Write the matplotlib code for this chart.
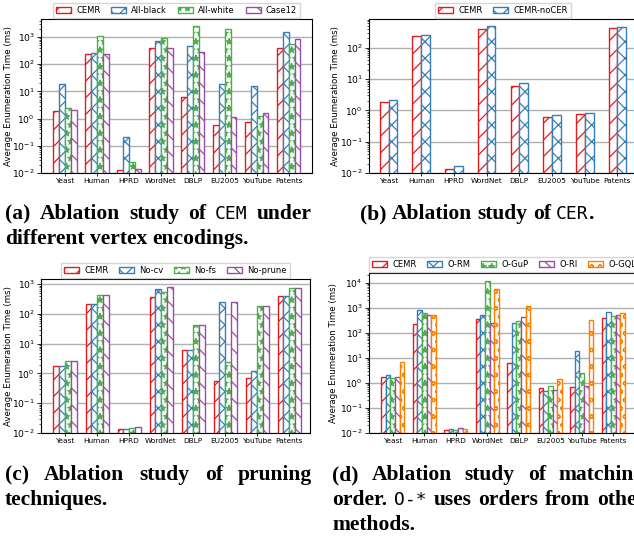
import matplotlib
matplotlib.use("Agg")
import matplotlib.pyplot as plt
import numpy as np

datasets = ["Yeast", "Human", "HPRD", "WordNet", "DBLP", "EU2005", "YouTube", "Patents"]

# (a) vertex encodings
a_labels = ["CEMR", "All-black", "All-white", "Case12"]
a_cemr = [1.85, 233, 0.013, 385, 6.2, 0.6, 0.75, 405]
a_black = [18.6, 250, 0.21, 710, 470, 18.6, 16, 1580]
a_white = [2.45, 1120, 0.025, 950, 2500, 1900, 1.3, 540]
a_case12 = [2.1, 240, 0.014, 385, 275, 1.1, 1.6, 820]

# (b) CER
b_labels = ["CEMR", "CEMR-noCER"]
b_cemr = [1.8, 235, 0.0131, 395, 6.1, 0.6, 0.75, 415]
b_nocer = [2.1, 253, 0.0167, 490, 7.3, 0.69, 0.8, 445]

# (c) pruning
c_labels = ["CEMR", "No-cv", "No-fs", "No-prune"]
c_cemr = [1.8, 218, 0.0133, 385, 6.0, 0.58, 0.72, 395]
c_nocv = [1.8, 223, 0.014, 680, 6.0, 255, 1.2, 395]
c_nofs = [2.7, 425, 0.0147, 540, 41.5, 2.4, 186, 735]
c_noprune = [2.7, 425, 0.016, 835, 41.5, 255, 190, 770]

# (d) matching order
d_labels = ["CEMR", "O-RM", "O-GuP", "O-RI", "O-GQL"]
d_cemr = [1.8, 230, 0.0132, 365, 6.2, 0.61, 0.71, 400]
d_rm = [2.1, 820, 0.0141, 500, 253, 0.48, 18.5, 700]
d_gup = [1.6, 620, 0.0132, 11700, 295, 0.78, 2.6, 470]
d_ri = [1.7, 500, 0.0164, 253, 455, 0.52, 0.76, 540]
d_gql = [6.8, 530, 0.0149, 5900, 1230, 1.45, 325, 620]

RED = "#e41a1c"
BLUE = "#377eb8"
GREEN = "#4daf4a"
PURPLE = "#984ea3"
ORANGE = "#ff7f00"

W, H = 634, 540
fig = plt.figure(figsize=(W / 100, H / 100), dpi=100)
plt.rcParams["hatch.linewidth"] = 0.9


def px_axes(l, t, r, b):
    return fig.add_axes([l / W, 1 - b / H, (r - l) / W, (b - t) / H])


def draw_panel(ax, series, labels, colors, hatches, width, xlim, ylim, ncol,
               ylab_x, legend_loc="lower center", anchor=(0.5, 1.0)):
    x = np.arange(len(datasets))
    n = len(series)
    for i, (vals, lab, col, hat) in enumerate(zip(series, labels, colors, hatches)):
        off = (i - (n - 1) / 2) * width
        ax.bar(x + off, vals, width, bottom=0, label=lab, facecolor="white",
               edgecolor=col, hatch=hat, linewidth=1.0)
    ax.set_yscale("log")
    ax.set_ylim(*ylim)
    ax.set_xlim(*xlim)
    ax.set_xticks(x)
    ax.set_xticklabels(datasets, fontsize=5.3)
    ax.tick_params(axis="y", labelsize=6.6, length=3, width=0.6, pad=1.5)
    ax.tick_params(axis="y", which="minor", length=1.5, width=0.5)
    ax.tick_params(axis="x", length=2, width=0.6, pad=1.5)
    ax.set_axisbelow(True)
    ax.yaxis.grid(True, which="major", color="#b0b0b0", linewidth=1.0)
    ax.set_ylabel("Average Enumeration Time (ms)", fontsize=6.2)
    ax.yaxis.set_label_coords(ylab_x, 0.5)
    for s in ax.spines.values():
        s.set_linewidth(0.8)
    ax.legend(loc=legend_loc, bbox_to_anchor=anchor, ncol=ncol,
              fontsize=6.0, frameon=True, handlelength=1.8, handleheight=0.75,
              columnspacing=1.3, handletextpad=0.6, borderpad=0.35,
              borderaxespad=0.15, fancybox=False, edgecolor="#cccccc")


axa = px_axes(41, 19, 312, 173)
draw_panel(axa, [a_cemr, a_black, a_white, a_case12], a_labels,
           [RED, BLUE, GREEN, PURPLE], ["//", "xx", "**", "\\\\"], 0.18,
           (-0.75, 7.72), (1e-2, 4600), 4, -0.105)

axb = px_axes(369, 19, 637, 173)
draw_panel(axb, [b_cemr, b_nocer], b_labels, [RED, BLUE], ["//", "xx"], 0.27,
           (-0.6, 7.6), (1e-2, 830), 2, -0.11)

axc = px_axes(41, 279, 310, 433)
draw_panel(axc, [c_cemr, c_nocv, c_nofs, c_noprune], c_labels,
           [RED, BLUE, GREEN, PURPLE], ["//", "xx", "**", "\\\\"], 0.18,
           (-0.75, 7.65), (1e-2, 1500), 4, -0.105)

axd = px_axes(369, 273, 637, 433)
draw_panel(axd, [d_cemr, d_rm, d_gup, d_ri, d_gql], d_labels,
           [RED, BLUE, GREEN, PURPLE, ORANGE], ["//", "xx", "**", "\\\\", "oo"], 0.148,
           (-0.75, 7.75), (1e-2, 25000), 5, -0.115,
           legend_loc="lower left", anchor=(-0.003, 1.0))

# ---- captions ----
SERIF = dict(family="Liberation Serif", weight="bold", size=15.5)
MONO = dict(family="DejaVu Sans Mono", weight="normal", size=13.0)

fig.canvas.draw()
renderer = fig.canvas.get_renderer()


def measure(txt, fp):
    t = fig.text(0, 0, txt, **fp)
    w = t.get_window_extent(renderer).width
    t.remove()
    return w


space_w = measure("a a", SERIF) - measure("aa", SERIF)


def line(words, x0, y, x1=None, center=None):
    # words: list of (text, fontprops, glued_to_previous)
    widths = [measure(w, fp) for w, fp, _ in words]
    ngaps = sum(1 for i, (_, _, g) in enumerate(words) if i > 0 and not g)
    if x1 is not None and ngaps > 0:
        gap = (x1 - x0 - sum(widths)) / ngaps
    else:
        gap = space_w
    if center is not None:
        x0 = center - (sum(widths) + gap * ngaps) / 2
    x = x0
    for i, ((w, fp, g), wd) in enumerate(zip(words, widths)):
        if i > 0 and not g:
            x += gap
        fig.text(x / W, 1 - y / H, w, va="baseline", ha="left", **fp)
        x += wd


def S(s):
    return [(w, SERIF, False) for w in s.split()]


def M(s, glue=False):
    return [(s, MONO, glue)]


line(S("(a) Ablation study of") + M("CEM") + S("under"), 5, 219, 312)
line(S("different vertex encodings."), 5, 244)
line(S("(b) Ablation study of") + M("CER") + [(".", SERIF, True)], 0, 219, center=477)
line(S("(c) Ablation study of pruning"), 5, 480, 312)
line(S("techniques."), 5, 505)
line(S("(d) Ablation study of matching"), 332, 480, 645)
line(S("order.") + M("O-*") + S("uses orders from other"), 332, 505, 646)
line(S("methods."), 332, 530)

fig.savefig("out.png", dpi=100)
